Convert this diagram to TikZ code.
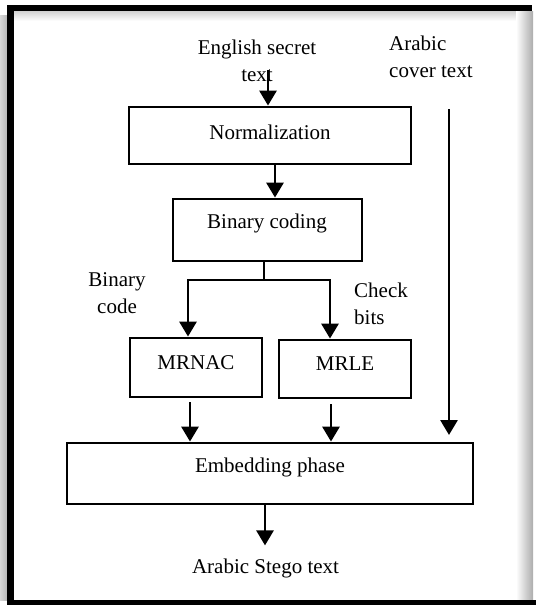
\documentclass[tikz,border=0pt]{standalone}
\usepackage{fontspec}
\setmainfont{Liberation Serif}
\usetikzlibrary{arrows.meta}
\begin{document}
\begin{tikzpicture}[x=1pt,y=-1pt,
  box/.style={draw, line width=2.8pt, inner sep=0pt},
  txt/.style={inner sep=0pt, font=\fontsize{21}{27}\selectfont},
  arr/.style={line width=2.8pt, -{Triangle[width=17pt,length=15pt]}},
  ln/.style={line width=2.8pt}]
\useasboundingbox (0,0) rectangle (536,605);
% frame
\shade[left color=gray!30, right color=gray!55] (0,15) rectangle (7,600);
\shade[top color=gray!35, bottom color=white] (14,11) rectangle (520,21);
\shade[left color=white, right color=gray!65] (516,11) rectangle (533,600);
\fill[black] (7,5) rectangle (14,605);
\fill[black] (7,5) rectangle (532,11);
\fill[black] (7,600) rectangle (536,605);
% boxes
\node[box, minimum width=282pt, minimum height=57pt] (norm) at (270,135.5) {};
\node[txt] (normt) at (270,132) {Normalization};
\node[box, minimum width=189pt, minimum height=62pt] (bc) at (267.5,230) {};
\node[txt] (bct) at (267,223) {Binary coding};
\node[box, minimum width=132pt, minimum height=59pt] (mrnac) at (196,367.5) {};
\node[txt] (mrnact) at (196,363) {MRNAC};
\node[box, minimum width=132pt, minimum height=58pt] (mrle) at (345,369) {};
\node[txt] (mrlet) at (345,364) {MRLE};
\node[box, minimum width=406pt, minimum height=61pt] (emb) at (270,473.5) {};
\node[txt] (embt) at (270,467) {Embedding phase};
% labels
\node[txt, align=center] (es) at (257,61) {English secret\\text};
\node[txt, align=left, anchor=west] (cover) at (389,57) {Arabic\\cover text};
\node[txt, align=center] (bcode) at (117,293) {Binary\\code};
\node[txt, align=left, anchor=west] (check) at (354,304) {Check\\bits};
\node[txt] (stego) at (265.5,568) {Arabic Stego text};
% connectors
\coordinate (a0) at (268,70);
\draw[arr] (a0) -- (a0 |- norm.north);
\draw[arr] ([xshift=5pt]norm.south) -- ([xshift=5pt]norm.south |- bc.north);
\coordinate (split) at (264,280);
\draw[ln] (bc.south -| split) -- (split);
\draw[arr] (split) -| ([xshift=-8pt]mrnac.north);
\draw[arr] (split) -| ([xshift=-15pt]mrle.north);
\coordinate (m1) at ([xshift=-6pt,yshift=-4pt]mrnac.south);
\draw[arr] (m1) -- (m1 |- emb.north);
\coordinate (m2) at ([xshift=-14pt,yshift=-5pt]mrle.south);
\draw[arr] (m2) -- (m2 |- emb.north);
\coordinate (c0) at (449,109);
\coordinate (c1) at (449,435);
\draw[arr] (c0) -- (c1);
\coordinate (e0) at ([xshift=-5pt]emb.south);
\draw[arr] (e0) -- ++(0,40);
\end{tikzpicture}
\end{document}
